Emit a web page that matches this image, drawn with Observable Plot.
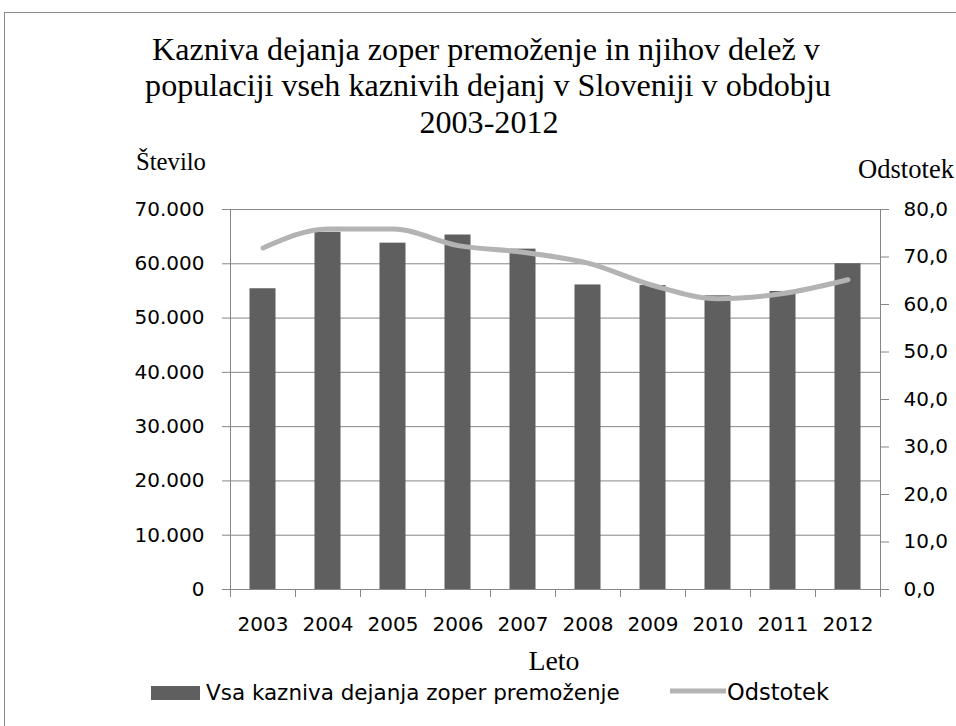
<!DOCTYPE html>
<html><head><meta charset="utf-8">
<script src="https://cdn.jsdelivr.net/npm/d3@7"></script>
<script src="https://cdn.jsdelivr.net/npm/@observablehq/plot@0.6"></script>
<style>
body{margin:0;background:#fff;}
#wrap{position:relative;width:956px;height:726px;overflow:hidden;}
#frame{position:absolute;left:4px;top:12px;width:1000px;height:800px;border:1px solid #8a8a8a;box-sizing:border-box;}
#chart{position:absolute;left:0;top:0;}
</style></head><body>
<div id="wrap"><div id="frame"></div><div id="chart"></div></div>
<script>
const years = ["2003","2004","2005","2006","2007","2008","2009","2010","2011","2012"];
const counts = [55400, 65800, 63800, 65300, 62700, 56100, 56000, 54100, 54900, 60000];
const shares = [71.9, 75.9, 75.9, 72.4, 71.0, 68.7, 64.0, 61.2, 62.3, 65.2];
const leftTicks = [0, 10000, 20000, 30000, 40000, 50000, 60000, 70000];
const rightTicks = [0, 10, 20, 30, 40, 50, 60, 70, 80];
const titleLines = ["Kazniva dejanja zoper premoženje in njihov delež v", "populaciji vseh kaznivih dejanj v Sloveniji v obdobju", "2003-2012"];
const leftTitle = "Število", rightTitle = "Odstotek", xTitle = "Leto";
const barName = "Vsa kazniva dejanja zoper premoženje", lineName = "Odstotek";

const K = 70000 / 80; // right-axis percent -> left-axis count
const data = years.map((y, i) => ({i, year: y, count: counts[i], share: shares[i]}));
const fmt = d3.formatLocale({decimal: ",", thousands: ".", grouping: [3], currency: ["", ""]}).format(",");
const axisCol = "#868686";

const svg = Plot.plot({
  width: 956, height: 726,
  marginLeft: 230, marginRight: 76, marginTop: 209, marginBottom: 137,
  style: {fontFamily: "'DejaVu Sans', sans-serif", fontSize: "20px", color: "#000", background: "transparent"},
  x: {type: "linear", domain: [0, 10], axis: null},
  y: {type: "linear", domain: [0, 70000], axis: null},
  marks: [
    Plot.gridY(leftTicks, {stroke: axisCol, strokeOpacity: 1}),
    Plot.rectY(data, {x1: "i", x2: d => d.i + 1, y: "count", fill: "#5f5f5f", insetLeft: 19.5, insetRight: 19.5}),
    Plot.line(data, {x: d => d.i + 0.5, y: d => d.share * K, stroke: "#b3b3b3", strokeWidth: 5, curve: "monotone-x"}),
    Plot.ruleX([0, 10], {stroke: axisCol}),
    Plot.ruleY([0], {stroke: axisCol}),
    Plot.axisY(leftTicks, {anchor: "left", tickSize: 8, tickPadding: 18, tickFormat: fmt, label: null, stroke: axisCol, fill: "#000"}),
    Plot.axisY(rightTicks.map(d => d * K), {anchor: "right", tickSize: 8, tickPadding: 15, tickFormat: d => (d / K).toFixed(1).replace(".", ","), label: null, stroke: axisCol, fill: "#000"}),
    Plot.axisX(d3.range(11), {anchor: "bottom", tickSize: 8, tickFormat: () => "", label: null, stroke: axisCol}),
    Plot.axisX(years.map((y, i) => i + 0.5), {anchor: "bottom", tickSize: 0, tickPadding: 27, tickFormat: d => years[Math.floor(d)], label: null, fill: "#000"})
  ]
});
document.getElementById("chart").appendChild(svg);

const s = d3.select(svg);
function addText(txt, x, y, anchor, family, size, target) {
  const t = s.append("text").attr("x", x).attr("y", y).attr("text-anchor", anchor)
    .style("font-family", family).style("font-size", size + "px").attr("fill", "#000").text(txt);
  if (target) {
    const w = t.node().getComputedTextLength();
    t.style("font-size", (size * target / w) + "px");
  }
  return t;
}
const serif = "'Liberation Serif', 'Times New Roman', serif";
const sans = "'DejaVu Sans', sans-serif";
// title: fit first line, reuse its size for others
const t1 = addText(titleLines[0], 486, 60, "middle", serif, 29, 668);
const ts = parseFloat(t1.style("font-size"));
addText(titleLines[1], 488, 96, "middle", serif, ts);
addText(titleLines[2], 489, 133, "middle", serif, ts);
addText(leftTitle, 136, 170, "start", serif, 21, 70);
addText(rightTitle, 954, 178, "end", serif, 21, 96);
addText(xTitle, 554, 670, "middle", serif, 21, 51);
// legend
s.append("rect").attr("x", 151).attr("y", 686).attr("width", 49).attr("height", 14).attr("fill", "#5f5f5f");
addText(barName, 206, 700, "start", sans, 19, 414);
s.append("line").attr("x1", 670).attr("x2", 726).attr("y1", 691).attr("y2", 691).attr("stroke", "#b3b3b3").attr("stroke-width", 5);
addText(lineName, 727, 700, "start", sans, 19, 102);
</script>
</body></html>
